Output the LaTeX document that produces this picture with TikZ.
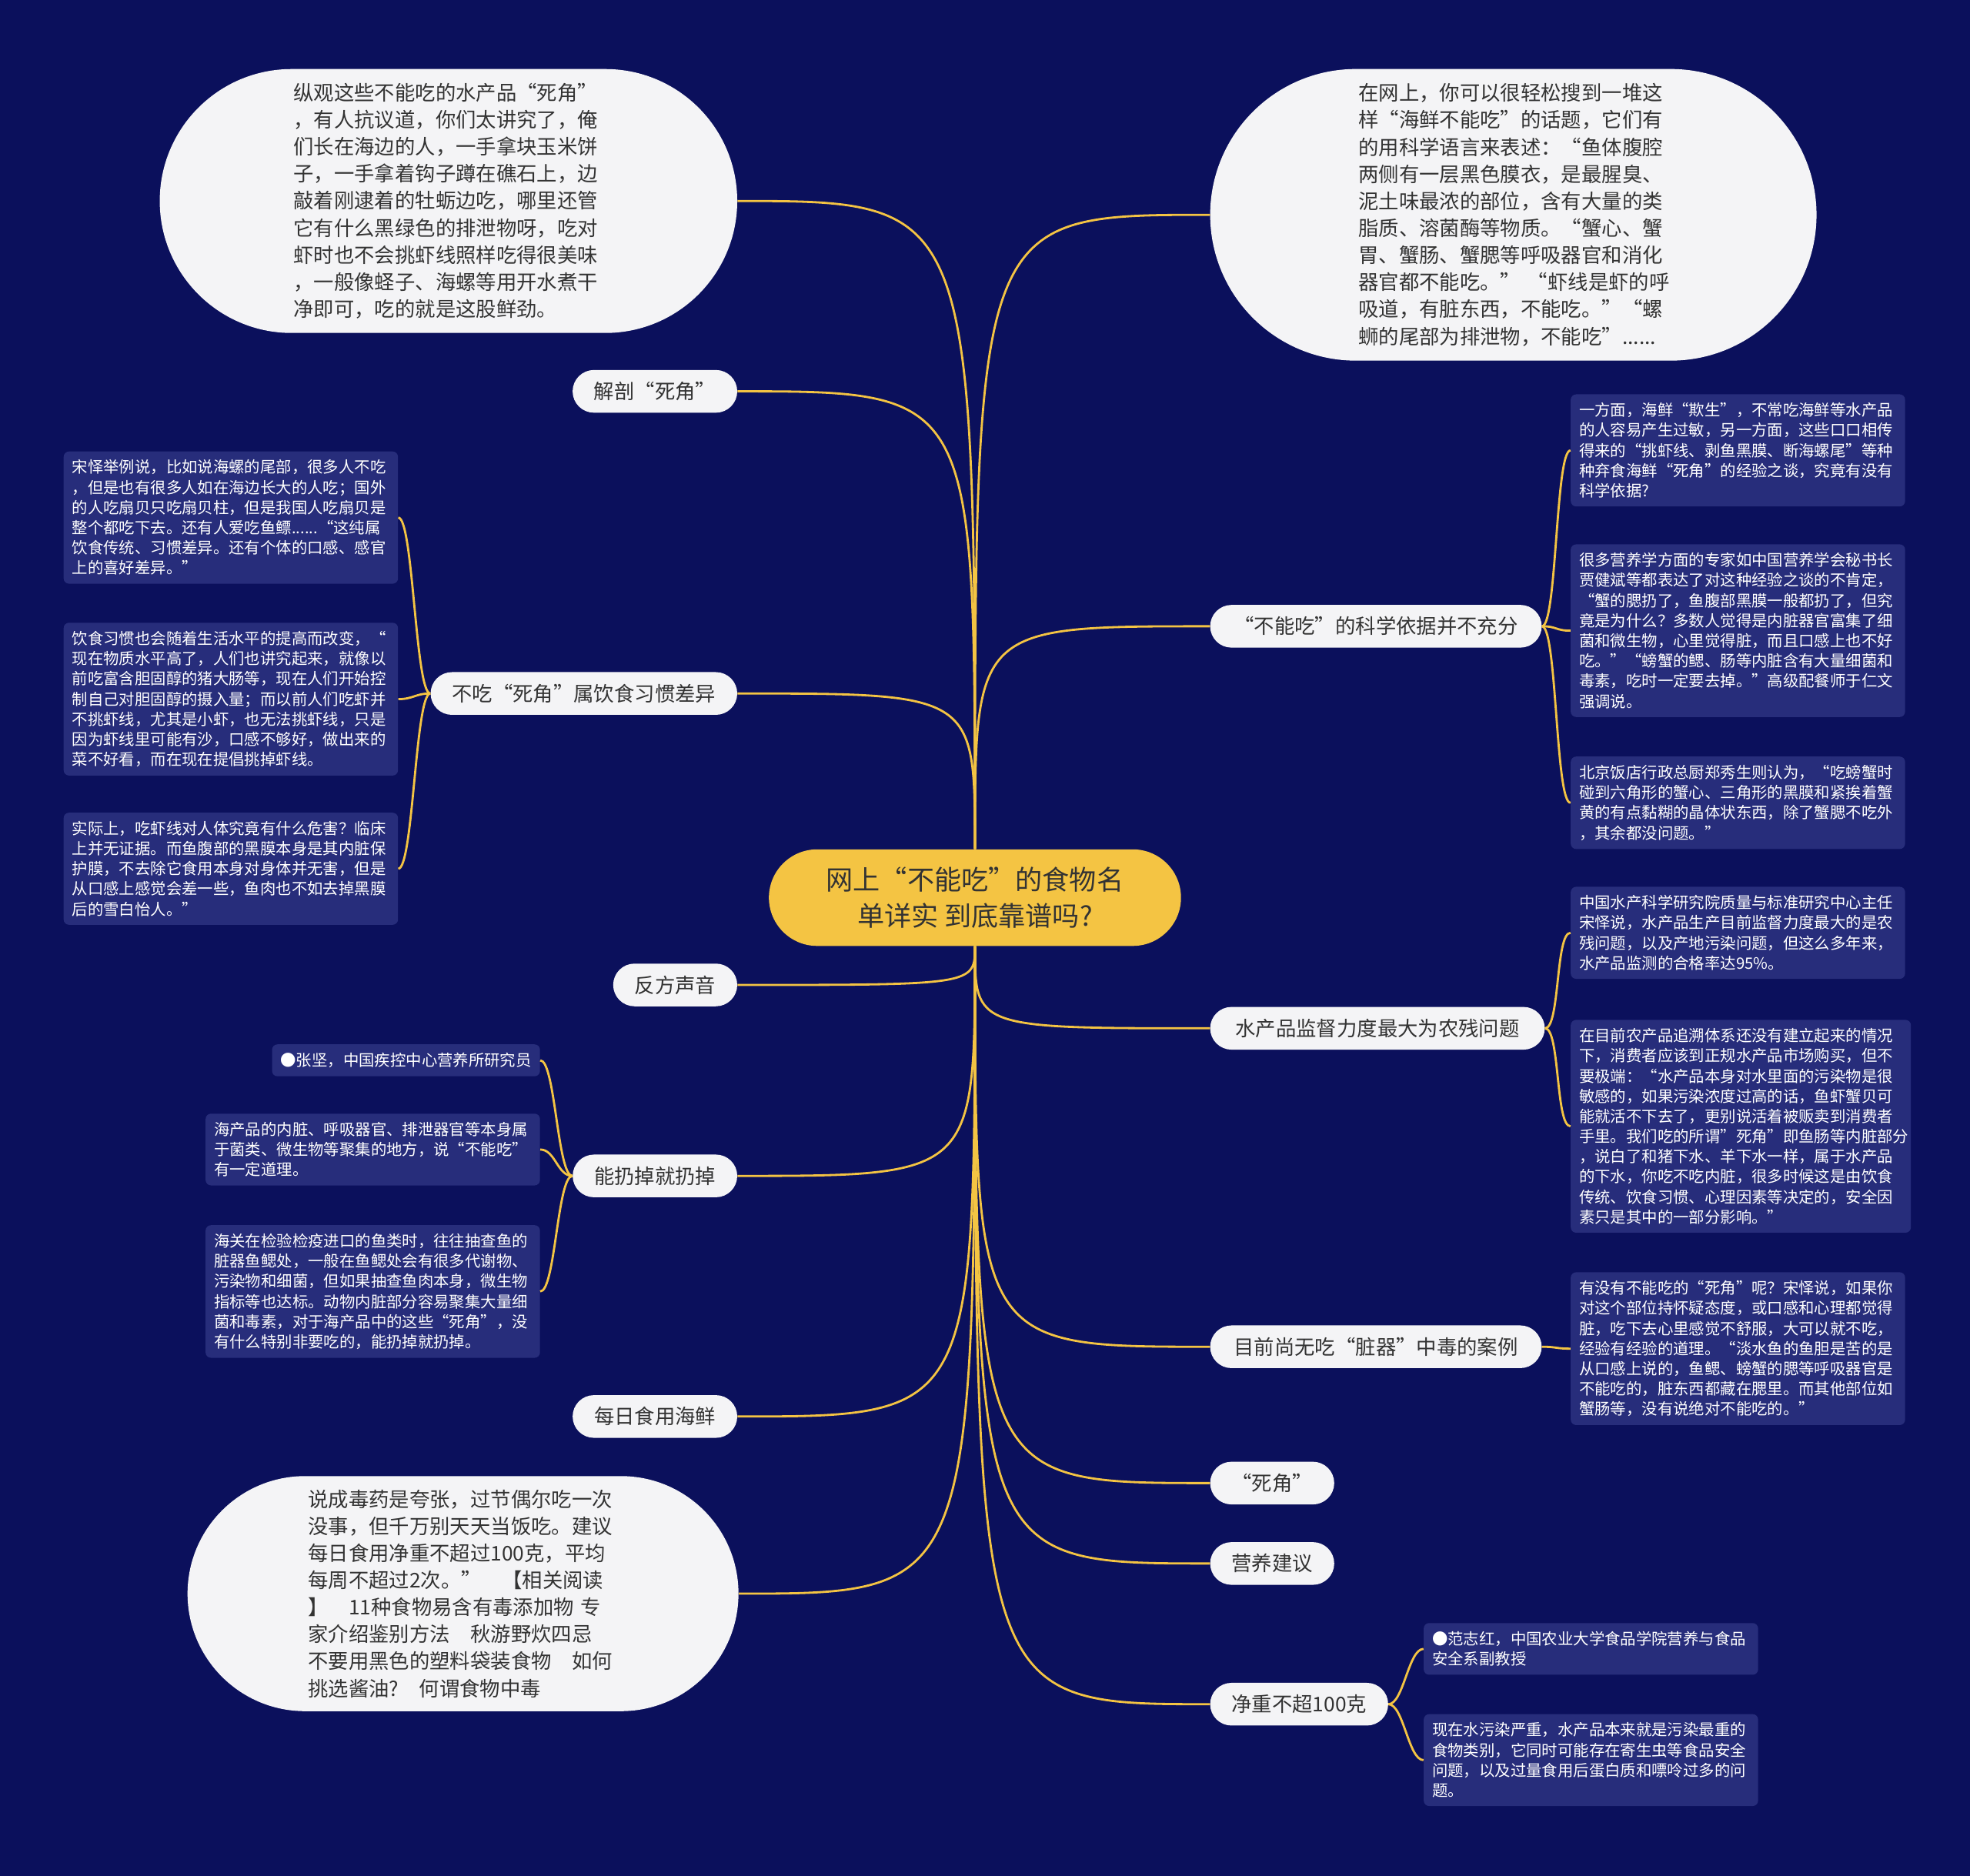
\documentclass[tikz,border=0pt]{standalone}
\usepackage{fontspec}
\setmainfont{Noto Sans CJK SC}
\usetikzlibrary{shapes.misc}

\definecolor{navy}{HTML}{0B105C}
\definecolor{leafblue}{HTML}{272D7B}
\definecolor{gold}{HTML}{F4C443}
\definecolor{pillwhite}{HTML}{F4F4F6}
\definecolor{ink}{HTML}{333333}

\begin{document}
\begin{tikzpicture}[x=0.032654cm, y=-0.032654cm,
  link/.style={gold, line width=1.6pt},
  topic/.style={rounded rectangle, fill=gold, text=ink, align=center,
    font=\fontsize{20}{27}\selectfont, minimum height=2.51cm, inner xsep=1.2cm},
  branch/.style={rounded rectangle, fill=pillwhite, text=ink,
    font=\fontsize{15}{20}\selectfont, minimum height=1.11cm, inner xsep=0.5cm, inner ysep=1pt},
  bubble/.style={rounded rectangle, fill=pillwhite, text=ink, align=left,
    font=\fontsize{15}{20}\selectfont, text width=8.05cm, inner xsep=3pt},
  leafbox/.style={rounded corners=4pt, fill=leafblue, text=white, align=left,
    font=\fontsize{11.6}{14.9}\selectfont, inner xsep=0.22cm, inner ysep=0.22cm},
  leaf/.style={leafbox, text width=8.25cm}]

  % Background
  \fill[navy] (0,0) rectangle (1568,1493);
  \useasboundingbox (0,0) rectangle (1568,1493);

  % Central topic
  \node[topic] (hub) at (776,714.5) {网上“不能吃”的食物名\\单详实 到底靠谱吗?};

  % Left branches
  \node[bubble, anchor=east, minimum height=6.86cm, minimum width=15.22cm] (tl) at (587,160)
    {纵观这些不能吃的水产品“死角”\\，有人抗议道，你们太讲究了，俺\\们长在海边的人，一手拿块玉米饼\\子，一手拿着钩子蹲在礁石上，边\\敲着刚逮着的牡蛎边吃，哪里还管\\它有什么黑绿色的排泄物呀，吃对\\虾时也不会挑虾线照样吃得很美味\\，一般像蛏子、海螺等用开水煮干\\净即可，吃的就是这股鲜劲。};
  \node[branch, anchor=east] (jiepou) at (587,311.5) {解剖“死角”};
  \node[branch, anchor=east] (buchi) at (587,552) {不吃“死角”属饮食习惯差异};
  \node[branch, anchor=east] (fanfang) at (587,784) {反方声音};
  \node[branch, anchor=east] (nengreng) at (587,936) {能扔掉就扔掉};
  \node[branch, anchor=east] (meiri) at (587,1127.5) {每日食用海鲜};
  \node[bubble, anchor=east, minimum height=6.11cm, minimum width=14.53cm] (bl) at (588,1268.5)
    {说成毒药是夸张，过节偶尔吃一次\\没事，但千万别天天当饭吃。建议\\每日食用净重不超过100克，平均\\每周不超过2次。”　【相关阅读\\】　11种食物易含有毒添加物 专\\家介绍鉴别方法　秋游野炊四忌\\不要用黑色的塑料袋装食物　如何\\挑选酱油?　何谓食物中毒};

  % Right branches
  \node[bubble, anchor=west, minimum height=7.58cm, minimum width=15.97cm] (tr) at (963,171)
    {在网上，你可以很轻松搜到一堆这\\样“海鲜不能吃”的话题，它们有\\的用科学语言来表述：“鱼体腹腔\\两侧有一层黑色膜衣，是最腥臭、\\泥土味最浓的部位，含有大量的类\\脂质、溶菌酶等物质。“蟹心、蟹\\胃、蟹肠、蟹腮等呼吸器官和消化\\器官都不能吃。”~“虾线是虾的呼\\吸道，有脏东西，不能吃。”“螺\\蛳的尾部为排泄物，不能吃”......};
  \node[branch, anchor=west, inner xsep=0.56cm] (kexue) at (963,498.5) {“不能吃”的科学依据并不充分};
  \node[branch, anchor=west, inner xsep=0.6cm] (jiandu) at (963,818.5) {水产品监督力度最大为农残问题};
  \node[branch, anchor=west, inner xsep=0.56cm] (muqian) at (963,1072) {目前尚无吃“脏器”中毒的案例};
  \node[branch, anchor=west] (sijiao) at (963,1180.5) {“死角”};
  \node[branch, anchor=west] (yingyang) at (963,1244.5) {营养建议};
  \node[branch, anchor=west] (jingzhong) at (963,1356.5) {净重不超100克};

  % Leaves of 不吃“死角”
  \node[leaf, anchor=east] (b1) at (317,412)
    {宋怿举例说，比如说海螺的尾部，很多人不吃\\，但是也有很多人如在海边长大的人吃；国外\\的人吃扇贝只吃扇贝柱，但是我国人吃扇贝是\\整个都吃下去。还有人爱吃鱼鳔......“这纯属\\饮食传统、习惯差异。还有个体的口感、感官\\上的喜好差异。”};
  \node[leaf, anchor=east] (b2) at (317,556.5)
    {饮食习惯也会随着生活水平的提高而改变，“\\现在物质水平高了，人们也讲究起来，就像以\\前吃富含胆固醇的猪大肠等，现在人们开始控\\制自己对胆固醇的摄入量；而以前人们吃虾并\\不挑虾线，尤其是小虾，也无法挑虾线，只是\\因为虾线里可能有沙，口感不够好，做出来的\\菜不好看，而在现在提倡挑掉虾线。};
  \node[leaf, anchor=east] (b3) at (317,691.5)
    {实际上，吃虾线对人体究竟有什么危害？临床\\上并无证据。而鱼腹部的黑膜本身是其内脏保\\护膜，不去除它食用本身对身体并无害，但是\\从口感上感觉会差一些，鱼肉也不如去掉黑膜\\后的雪白怡人。”};

  % Leaves of 能扔掉就扔掉
  \node[leafbox, anchor=east] (r1) at (430,844) {●张坚，中国疾控中心营养所研究员};
  \node[leaf, anchor=east] (r2) at (430,915)
    {海产品的内脏、呼吸器官、排泄器官等本身属\\于菌类、微生物等聚集的地方，说“不能吃”\\有一定道理。};
  \node[leaf, anchor=east] (r3) at (430,1028)
    {海关在检验检疫进口的鱼类时，往往抽查鱼的\\脏器鱼鳃处，一般在鱼鳃处会有很多代谢物、\\污染物和细菌，但如果抽查鱼肉本身，微生物\\指标等也达标。动物内脏部分容易聚集大量细\\菌和毒素，对于海产品中的这些“死角”，没\\有什么特别非要吃的，能扔掉就扔掉。};

  % Leaves of 科学依据
  \node[leaf, anchor=west] (k1) at (1250,358.5)
    {一方面，海鲜“欺生”，不常吃海鲜等水产品\\的人容易产生过敏，另一方面，这些口口相传\\得来的“挑虾线、剥鱼黑膜、断海螺尾”等种\\种弃食海鲜“死角”的经验之谈，究竟有没有\\科学依据?};
  \node[leaf, anchor=west] (k2) at (1250,502)
    {很多营养学方面的专家如中国营养学会秘书长\\贾健斌等都表达了对这种经验之谈的不肯定，\\“蟹的腮扔了，鱼腹部黑膜一般都扔了，但究\\竟是为什么？多数人觉得是内脏器官富集了细\\菌和微生物，心里觉得脏，而且口感上也不好\\吃。”“螃蟹的鳃、肠等内脏含有大量细菌和\\毒素，吃时一定要去掉。”高级配餐师于仁文\\强调说。};
  \node[leaf, anchor=west] (k3) at (1250,639)
    {北京饭店行政总厨郑秀生则认为，“吃螃蟹时\\碰到六角形的蟹心、三角形的黑膜和紧挨着蟹\\黄的有点黏糊的晶体状东西，除了蟹腮不吃外\\，其余都没问题。”};

  % Leaves of 监督力度
  \node[leaf, anchor=west] (j1) at (1250,742.5)
    {中国水产科学研究院质量与标准研究中心主任\\宋怿说，水产品生产目前监督力度最大的是农\\残问题，以及产地污染问题，但这么多年来，\\水产品监测的合格率达95\%。};
  \node[leaf, anchor=west, text width=8.4cm] (j2) at (1250,896.5)
    {在目前农产品追溯体系还没有建立起来的情况\\下，消费者应该到正规水产品市场购买，但不\\要极端：“水产品本身对水里面的污染物是很\\敏感的，如果污染浓度过高的话，鱼虾蟹贝可\\能就活不下去了，更别说活着被贩卖到消费者\\手里。我们吃的所谓"死角"即鱼肠等内脏部分\\，说白了和猪下水、羊下水一样，属于水产品\\的下水，你吃不吃内脏，很多时候这是由饮食\\传统、饮食习惯、心理因素等决定的，安全因\\素只是其中的一部分影响。”};

  % Leaf of 目前尚无
  \node[leaf, anchor=west] (m1) at (1250,1073.5)
    {有没有不能吃的“死角”呢？宋怿说，如果你\\对这个部位持怀疑态度，或口感和心理都觉得\\脏，吃下去心里感觉不舒服，大可以就不吃，\\经验有经验的道理。“淡水鱼的鱼胆是苦的是\\从口感上说的，鱼鳃、螃蟹的腮等呼吸器官是\\不能吃的，脏东西都藏在腮里。而其他部位如\\蟹肠等，没有说绝对不能吃的。”};

  % Leaves of 净重不超100克
  \node[leaf, anchor=west] (n1) at (1133,1312.5)
    {●范志红，中国农业大学食品学院营养与食品\\安全系副教授};
  \node[leaf, anchor=west] (n2) at (1133,1401)
    {现在水污染严重，水产品本来就是污染最重的\\食物类别，它同时可能存在寄生虫等食品安全\\问题，以及过量食用后蛋白质和嘌呤过多的问\\题。};

  % Links from the central topic
  \foreach \n in {tl,jiepou,buchi}
    \draw[link] (hub.north) .. controls (hub.north |- \n.east) .. (\n.east);
  \foreach \n in {fanfang,nengreng,meiri,bl}
    \draw[link] (hub.south) .. controls (hub.south |- \n.east) .. (\n.east);
  \foreach \n in {tr,kexue}
    \draw[link] (hub.north) .. controls (hub.north |- \n.west) .. (\n.west);
  \foreach \n in {jiandu,muqian,sijiao,yingyang,jingzhong}
    \draw[link] (hub.south) .. controls (hub.south |- \n.west) .. (\n.west);

  % Links to the leaves
  \foreach \n in {b1,b2,b3}
    \draw[link] (buchi.west) .. controls +(-12,0) and +(12,0) .. (\n.east);
  \foreach \n in {r1,r2,r3}
    \draw[link] (nengreng.west) .. controls +(-12,0) and +(12,0) .. (\n.east);
  \foreach \n in {k1,k2,k3}
    \draw[link] (kexue.east) .. controls +(12,0) and +(-12,0) .. (\n.west);
  \foreach \n in {j1,j2}
    \draw[link] (jiandu.east) .. controls +(12,0) and +(-12,0) .. (\n.west);
  \draw[link] (muqian.east) .. controls +(12,0) and +(-12,0) .. (m1.west);
  \foreach \n in {n1,n2}
    \draw[link] (jingzhong.east) .. controls +(12,0) and +(-12,0) .. (\n.west);
\end{tikzpicture}
\end{document}
